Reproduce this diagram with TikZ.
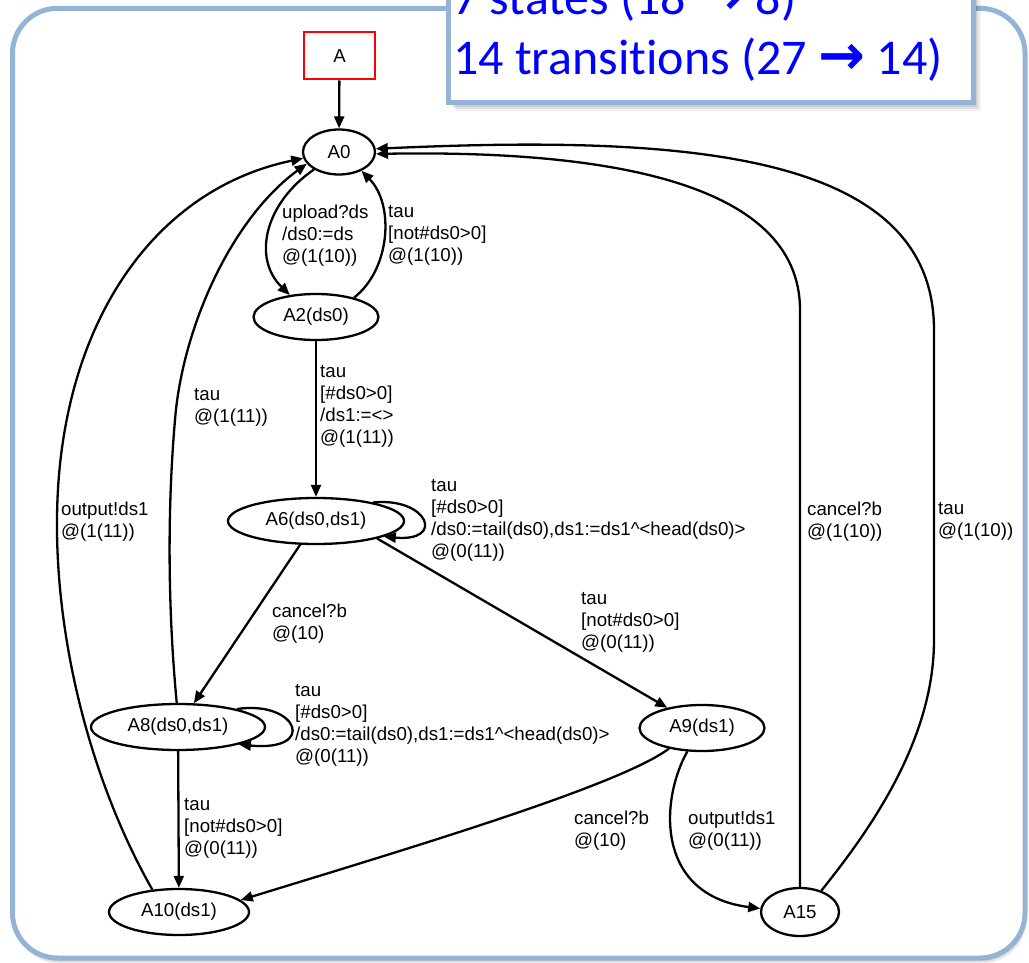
\documentclass[tikz,border=0pt]{standalone}
\usepackage{fontspec}
\setmainfont{Liberation Sans}
\newfontfamily\callfont[Ligatures=NoCommon]{Carlito}
\newfontfamily\symfont{DejaVu Sans}
\usetikzlibrary{arrows.meta,shapes.geometric}
\definecolor{frameblue}{RGB}{149,179,215}
\definecolor{textblue}{RGB}{0,0,255}
\newcommand\gvfont{\fontsize{18.7}{22}\selectfont}
\newcommand\bigfont{\callfont\fontsize{50}{60}\selectfont}
\newcommand\bigarrow{{\symfont\bfseries\fontsize{56}{60}\selectfont →}}

\begin{document}
\begin{tikzpicture}[x=1pt,y=-1pt,
  state/.style={draw,ellipse,line width=2.3pt,inner sep=0pt,minimum height=46pt,font=\gvfont},
  initbox/.style={draw=red,line width=2pt,minimum width=71pt,minimum height=47pt,inner sep=0pt,font=\gvfont},
  trans/.style={line width=2.3pt,-{Triangle[length=12pt,width=10pt]}},
  lab/.style={anchor=north west,inner sep=0pt,align=left,font=\gvfont,
              execute at begin node={\rule{0pt}{15pt}}},
  callline/.style={anchor=base west,inner sep=0pt,font=\bigfont,text=textblue}]
\useasboundingbox (0,0) rectangle (1029,963);

% outer frame with a soft shadow
\foreach \d/\o in {6/0.05,4.5/0.07,3/0.09,1.5/0.1}
  \fill[black,opacity=\o,rounded corners=45pt] (12.5+\d*0.3,8.3+\d) rectangle (1025+\d*0.3,958+\d);
\filldraw[fill=white,draw=frameblue,line width=5pt,rounded corners=45pt]
  (12.5,8.3) rectangle (1025,958);

% states
\node[initbox] (A) at (339.5,56) {A};
\node[state,minimum width=72pt,minimum height=45pt] (A0) at (339,152) {A0};
\node[state,minimum width=125pt] (A2) at (316,317) {A2(ds0)};
\node[state,minimum width=176pt] (A6) at (316,521) {A6(ds0,ds1)};
\node[state,minimum width=174pt] (A8) at (178,727) {A8(ds0,ds1)};
\node[state,minimum width=125pt] (A9) at (702,728) {A9(ds1)};
\node[state,minimum width=140pt] (A10) at (179,912) {A10(ds1)};
\node[state,minimum width=78pt,minimum height=48pt] (A15) at (800,912) {A15};

% transitions
\draw[trans] (A) -- (A0);
\draw[trans] (A0.215) .. controls (265,203) and (252,258) .. (A2.140);
\draw[trans] (A2.27) .. controls (390,270) and (395,205) .. (A0.-40);
\draw[trans] (A2) -- (A6);
\draw[trans] (A6.18) .. controls (428,497) and (446,542) .. (A6.-13);
\draw[trans] (A6) -- (A8);
\draw[trans] (A6.-16) -- (A9);
\draw[trans] (A8.93) .. controls (167,600) and (168,500) .. (175,420)
                     .. controls (182,330) and (230,220) .. (A0.200);
\draw[trans] (A8.17) .. controls (298,700) and (318,752) .. (A8.-16);
\draw[trans] (A8) -- (A10);
\draw[trans] (A10.140) .. controls (90,780) and (56,640) .. (57,520)
                       .. controls (58,330) and (150,190) .. (A0.190);
\draw[trans] (A9.212) .. controls (620,785) and (420,845) .. (A10.11);
\draw[trans] (A9.-122) .. controls (660,800) and (655,895) .. (A15.175);
\draw[trans] (A15.north) -- (800,310) .. controls (800,180) and (600,150) .. (A0.-3);
\draw[trans] (A15.45) .. controls (870,830) and (934,740) .. (934,640) -- (934,330)
                      .. controls (934,150) and (680,135) .. (A0.5);

% transition labels
\node[lab] (l1) at (282,205) {upload?ds\\/ds0:=ds\\@(1(10))};
\node[lab] (l2) at (388,205) {tau\\{[}not\#ds0>0{]}\\@(1(10))};
\node[lab] (l3) at (320,365) {tau\\{[}\#ds0>0{]}\\/ds1:=<>\\@(1(11))};
\node[lab] (l4) at (194,388) {tau\\@(1(11))};
\node[lab] (l5) at (431,479) {tau\\{[}\#ds0>0{]}\\/ds0:=tail(ds0),ds1:=ds1\textasciicircum<head(ds0)>\\@(0(11))};
\node[lab] (l6) at (272,604) {cancel?b\\@(10)};
\node[lab] (l7) at (581,592) {tau\\{[}not\#ds0>0{]}\\@(0(11))};
\node[lab] (l8) at (295,684) {tau\\{[}\#ds0>0{]}\\/ds0:=tail(ds0),ds1:=ds1\textasciicircum<head(ds0)>\\@(0(11))};
\node[lab] (l9) at (184,798) {tau\\{[}not\#ds0>0{]}\\@(0(11))};
\node[lab] (l10) at (61,502) {output!ds1\\@(1(11))};
\node[lab] (l11) at (574,811) {cancel?b\\@(10)};
\node[lab] (l12) at (688,811) {output!ds1\\@(0(11))};
\node[lab] (l13) at (807,502) {cancel?b\\@(1(10))};
\node[lab] (l14) at (938,502) {tau\\@(1(10))};

% summary callout
\foreach \d/\o in {8/0.05,6/0.07,4/0.09,2/0.1}
  \fill[black,opacity=\o] (448+\d,-40) rectangle (973+\d,103+\d);
\filldraw[fill=white,draw=frameblue,line width=5pt] (448,-40) rectangle (973,103);
\node[callline] (s1) at (453,15) {7 states (18 \bigarrow{} 8)};
\node[callline] (s2) at (453,75) {14 transitions (27 \bigarrow{} 14)};
\end{tikzpicture}
\end{document}
